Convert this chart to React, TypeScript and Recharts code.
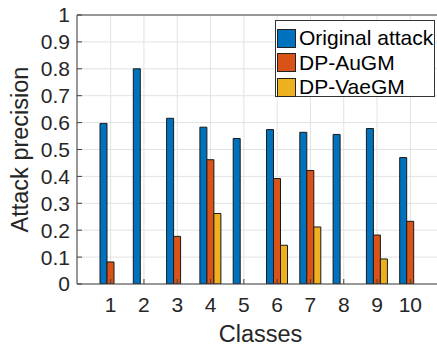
import { Bar, BarChart, CartesianGrid, Label, XAxis, YAxis } from "recharts";

const classes = ["1", "2", "3", "4", "5", "6", "7", "8", "9", "10"];
const originalAttack = [0.597, 0.8, 0.616, 0.583, 0.541, 0.574, 0.564, 0.556, 0.578, 0.47];
const dpAugm = [0.082, 0, 0.177, 0.462, 0, 0.392, 0.422, 0, 0.182, 0.233];
const dpVaegm = [0, 0, 0, 0.262, 0, 0.144, 0.212, 0, 0.093, 0];
const yTicks = [0, 0.1, 0.2, 0.3, 0.4, 0.5, 0.6, 0.7, 0.8, 0.9, 1];

const series = [
  { key: "orig", name: "Original attack", color: "#0072BD" },
  { key: "augm", name: "DP-AuGM", color: "#D95319" },
  { key: "vaegm", name: "DP-VaeGM", color: "#EDB120" },
];

const data = classes.map((c, i) => ({
  cls: c,
  orig: originalAttack[i],
  augm: dpAugm[i],
  vaegm: dpVaegm[i],
}));

const font = '"Liberation Sans", Arial, Helvetica, sans-serif';
const textColor = "#262626";
const axisColor = "#404040";

function LegendBox() {
  return (
    <div
      style={{
        position: "absolute",
        left: 275,
        top: 20,
        width: 160,
        height: 77,
        border: "1px solid #333",
        background: "#fff",
        fontFamily: font,
        fontSize: 21,
        color: "#000",
        paddingTop: 5,
        boxSizing: "border-box",
      }}
    >
      {series.map((s) => (
        <div key={s.key} style={{ display: "flex", alignItems: "center", height: 24.5 }}>
          <span
            style={{
              display: "inline-block",
              width: 19,
              height: 19,
              marginLeft: 1,
              marginRight: 3,
              background: s.color,
              border: "1px solid #222",
              boxSizing: "border-box",
            }}
          />
          <span style={{ whiteSpace: "nowrap", lineHeight: "24px" }}>{s.name}</span>
        </div>
      ))}
    </div>
  );
}

export default function App() {
  return (
    <div
      style={{
        position: "absolute",
        left: 0,
        top: 0,
        width: 437,
        height: 350,
        overflow: "hidden",
        background: "#fff",
      }}
    >
      <BarChart
        width={460}
        height={350}
        data={data}
        margin={{ top: 14, right: 16, left: 0, bottom: 0 }}
        barSize={7}
        barGap={0}
        style={{ fontFamily: font }}
      >
        <CartesianGrid stroke="#e2e2e2" />
        <XAxis
          dataKey="cls"
          height={66}
          padding={{ left: 17, right: 17 }}
          tickSize={-5}
          tickMargin={18}
          tick={{ fontSize: 21, fill: textColor }}
          axisLine={{ stroke: axisColor }}
          tickLine={{ stroke: axisColor }}
        >
          <Label
            value="Classes"
            position="insideBottom"
            offset={8}
            style={{ fontSize: 23.5, fill: textColor }}
          />
        </XAxis>
        <XAxis
          xAxisId="top"
          orientation="top"
          dataKey="cls"
          height={1}
          padding={{ left: 17, right: 17 }}
          tickSize={-5}
          tick={false}
          axisLine={{ stroke: axisColor }}
          tickLine={{ stroke: axisColor }}
        />
        <YAxis
          width={77}
          domain={[0, 1]}
          ticks={yTicks}
          interval={0}
          allowDataOverflow
          tickSize={-5}
          tickMargin={12}
          tick={{ fontSize: 21, fill: textColor }}
          axisLine={{ stroke: axisColor }}
          tickLine={{ stroke: axisColor }}
        >
          <Label
            value="Attack precision"
            angle={-90}
            position="insideLeft"
            offset={20}
            style={{ fontSize: 23.5, fill: textColor, textAnchor: "middle" }}
          />
        </YAxis>
        {series.map((s) => (
          <Bar
            key={s.key}
            dataKey={s.key}
            name={s.name}
            fill={s.color}
            stroke="#1a1a1a"
            strokeWidth={1}
            isAnimationActive={false}
          />
        ))}
      </BarChart>
      <LegendBox />
    </div>
  );
}
